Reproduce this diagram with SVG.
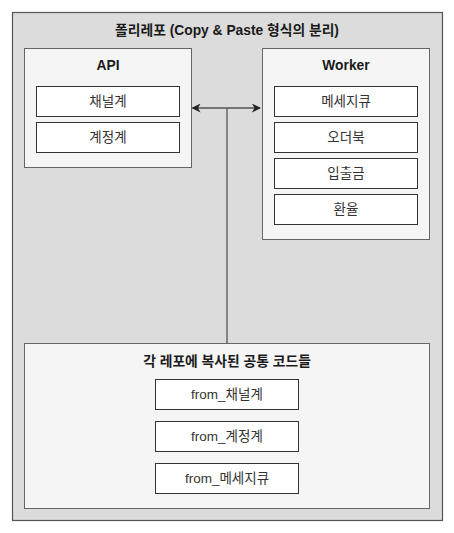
<svg xmlns="http://www.w3.org/2000/svg" width="454" height="533" viewBox="0 0 454 533">
  <style>
    .outer { fill: #dcdcdc; stroke: #555555; stroke-width: 1.2; }
    .panel { fill: #f5f5f5; stroke: #666666; stroke-width: 1; }
    .item { fill: #ffffff; stroke: #333333; stroke-width: 1; }
    text { font-family: "Liberation Sans", "Noto Sans CJK KR", sans-serif; text-anchor: middle; dominant-baseline: central; fill: #1a1a1a; }
    .title { font-size: 13.8px; font-weight: bold; }
    .label { font-size: 13.5px; fill: #333333; }
    .link { fill: none; stroke: #555555; stroke-width: 1.3; }
  </style>
  <defs>
    <marker id="arrow" viewBox="0 0 10 10" refX="9" refY="5" markerWidth="9" markerHeight="9" markerUnits="userSpaceOnUse" orient="auto-start-reverse">
      <path d="M0,0 L10,5 L0,10 L3,5 Z" fill="#222222"/>
    </marker>
  </defs>

  <!-- outer container -->
  <g id="polyrepo">
    <rect class="outer" x="12.5" y="12.5" width="430" height="508"/>
    <text class="title" x="227" y="30">폴리레포 (Copy &amp; Paste 형식의 분리)</text>
  </g>

  <!-- API repository -->
  <g id="api">
    <rect class="panel" x="24.5" y="48.5" width="167" height="119"/>
    <text class="title" x="108" y="65">API</text>
    <rect class="item" x="36.5" y="86.5" width="143" height="30"/>
    <text class="label" x="108" y="101.5">채널계</text>
    <rect class="item" x="36.5" y="122.5" width="143" height="30"/>
    <text class="label" x="108" y="137.5">계정계</text>
  </g>

  <!-- Worker repository -->
  <g id="worker">
    <rect class="panel" x="262.5" y="48.5" width="167" height="191"/>
    <text class="title" x="346" y="65">Worker</text>
    <rect class="item" x="274.5" y="86.5" width="143" height="30"/>
    <text class="label" x="346" y="101.5">메세지큐</text>
    <rect class="item" x="274.5" y="122.5" width="143" height="30"/>
    <text class="label" x="346" y="137.5">오더북</text>
    <rect class="item" x="274.5" y="158.5" width="143" height="30"/>
    <text class="label" x="346" y="173.5">입출금</text>
    <rect class="item" x="274.5" y="194.5" width="143" height="30"/>
    <text class="label" x="346" y="209.5">환율</text>
  </g>

  <!-- shared code copied into each repository -->
  <g id="shared">
    <rect class="panel" x="24.5" y="343.5" width="405" height="165"/>
    <text class="title" x="227" y="361">각 레포에 복사된 공통 코드들</text>
    <rect class="item" x="155.5" y="379.5" width="143" height="30"/>
    <text class="label" x="227" y="394.5">from_채널계</text>
    <rect class="item" x="155.5" y="421.5" width="143" height="30"/>
    <text class="label" x="227" y="436.5">from_계정계</text>
    <rect class="item" x="155.5" y="463.5" width="143" height="30"/>
    <text class="label" x="227" y="478.5">from_메세지큐</text>
  </g>

  <!-- connectors -->
  <g id="connectors">
    <path class="link" d="M192.5,108 L260,108" marker-start="url(#arrow)" marker-end="url(#arrow)"/>
    <path class="link" d="M227,108 L227,343.5"/>
  </g>
</svg>
